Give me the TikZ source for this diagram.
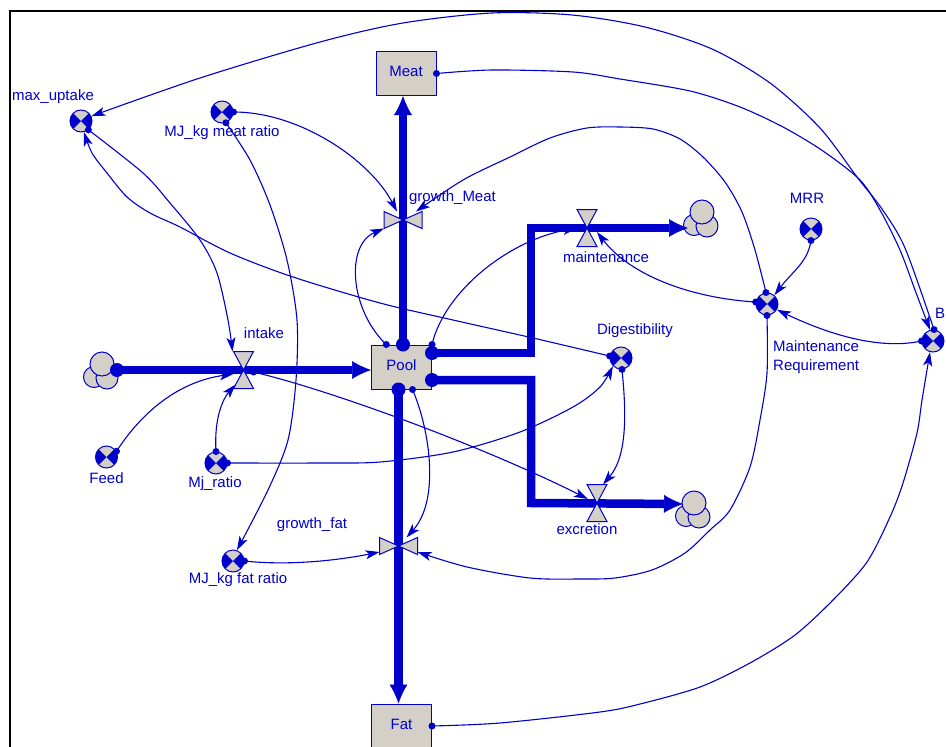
\documentclass[tikz,border=0pt]{standalone}
\usepackage{fontspec}
\setmainfont{Liberation Sans}
\usetikzlibrary{arrows.meta,calc}
\definecolor{vblue}{RGB}{0,0,204}
\definecolor{vgray}{RGB}{212,208,200}
\newcommand\condot[1]{\fill[vblue] (#1) circle (3.5pt);}
\newcommand\flowdot[1]{\fill[vblue] (#1) circle (7pt);}
\pgfdeclarelayer{conns}
\pgfdeclarelayer{pipes}
\pgfsetlayers{conns,pipes,main}
\begin{document}
\begin{tikzpicture}[x=1pt,y=-1pt,
 lbl/.style={text=vblue,font=\fontsize{15}{19}\selectfont,inner sep=0pt},
 stock/.style={rectangle,draw=vblue,fill=vgray,line width=1pt,minimum width=60pt,minimum height=44pt,inner sep=0pt,text=vblue,font=\fontsize{15}{19}\selectfont,text height=11pt,text depth=5pt},
 aux/.style={circle,draw=vblue,fill=vgray,line width=1pt,minimum size=22pt,inner sep=0pt,
   path picture={\fill[vblue] (path picture bounding box.center) -- ++(45:14pt) arc[start angle=45,end angle=-45,radius=14pt] -- cycle;
                 \fill[vblue] (path picture bounding box.center) -- ++(135:14pt) arc[start angle=135,end angle=225,radius=14pt] -- cycle;}},
 valveV/.style={rectangle,minimum width=20pt,minimum height=37pt,inner sep=0pt,outer sep=0pt},
 valveH/.style={rectangle,minimum width=38pt,minimum height=17pt,inner sep=0pt,outer sep=0pt},
 vshape/.style={draw=vblue,fill=vgray,line width=1pt,line join=miter},
 cloudc/.style={draw=vblue,fill=vgray,line width=1pt},
 cloud/.pic={\path[cloudc] (-6,6) circle (10.5pt); \path[cloudc] (7,7) circle (11pt); \path[cloudc] (2,-7) circle (12pt);},
 flow/.style={draw=vblue,line width=8.5pt,-{Latex[length=19pt,width=18pt,line width=0.5pt]}},
 conn/.style={draw=vblue,line width=1.1pt,-{Stealth[length=14pt,width=9pt,inset=3.5pt]}}
]
\useasboundingbox (0,0) rectangle (946,747);
\clip (0,0) rectangle (946,747);
\begin{pgfonlayer}{conns}
\fill[white] (0,0) rectangle (946,747);
\end{pgfonlayer}
\draw[black,line width=2.2pt] (10,750) -- (10,11) -- (950,11);

% stocks
\node[stock] (meat) at (406,73.5) {Meat};
\node[stock] (pool) at (401.5,367) {Pool};
\node[stock] (fat) at (401.5,726) {Fat};
% valves
\node[valveV] (intake) at (243.5,370) {};
\node[valveH] (gmeat) at (403,220) {};
\node[valveH] (gfat) at (398.5,546) {};
\node[valveV] (maint) at (587,228) {};
\node[valveV] (excr) at (597,503) {};
\path[vshape] (intake.north west) -- (intake.north east) -- (intake.center) -- cycle (intake.south west) -- (intake.south east) -- (intake.center) -- cycle;
\path[vshape] (maint.north west) -- (maint.north east) -- (maint.center) -- cycle (maint.south west) -- (maint.south east) -- (maint.center) -- cycle;
\path[vshape] (excr.north west) -- (excr.north east) -- (excr.center) -- cycle (excr.south west) -- (excr.south east) -- (excr.center) -- cycle;
\path[vshape] (gmeat.north west) -- (gmeat.south west) -- (gmeat.center) -- cycle (gmeat.north east) -- (gmeat.south east) -- (gmeat.center) -- cycle;
\path[vshape] (gfat.north west) -- (gfat.south west) -- (gfat.center) -- cycle (gfat.north east) -- (gfat.south east) -- (gfat.center) -- cycle;
% auxiliaries
\node[aux] (maxup) at (81,121) {};
\node[aux] (mjm) at (222,112) {};
\node[aux] (feed) at (106.5,457) {};
\node[aux] (mjr) at (216,463) {};
\node[aux] (dig) at (621,358) {};
\node[aux] (mrr) at (811,229) {};
\node[aux] (mreq) at (767,304) {};
\node[aux] (B) at (933,341) {};
\node[aux] (mjf) at (233,561) {};
% clouds and pipe corners
\coordinate (srcI) at (100,371);
\coordinate (snkM) at (700,219);
\coordinate (snkE) at (692,510);
\coordinate (mc1) at (531,353);
\coordinate (mc2) at (531,228);
\coordinate (ec1) at (531,380);
\coordinate (ec2) at (531,503);

\begin{pgfonlayer}{pipes}
\pic at (srcI) {cloud};
\pic at (snkM) {cloud};
\pic at (snkE) {cloud};
\draw[flow] ($(srcI)+(17,-1)$) -- (pool.west |- intake);
\draw[flow] (pool.north -| gmeat) -- (meat.south -| gmeat);
\draw[flow] (pool.south -| gfat) -- (fat.north -| gfat);
\draw[flow] (pool.east |- mc1) -- (mc1) -- (mc2) -- ($(snkM)+(-12,9)$);
\draw[flow] (pool.east |- ec1) -- (ec1) -- (ec2) -- ($(snkE)+(-9,-6)$);
\end{pgfonlayer}
\flowdot{$(srcI)+(17,-1)$}
\flowdot{pool.north -| gmeat}
\flowdot{pool.south -| gfat}
\flowdot{pool.east |- mc1}
\flowdot{pool.east |- ec1}

% connectors
\begin{pgfonlayer}{conns}
\draw[conn] plot[smooth,tension=0.5] coordinates {(B.85) (905,248) (882,209) (857,177) (820,128) (770,83) (712,49) (645,27) (572,15) (492,13) (403,23) (320,42) (200,78) (maxup.25)};
\draw[conn] plot[smooth,tension=0.5] coordinates {(meat.east) (492,70) (573,72) (620,79) (690,91) (740,107) (783,127) (823,151) (860,180) (880,210) (900,250) (915,290) (B.105)};
\draw[conn] (pool.north east) .. controls (445,290) and (510,240) .. (maint.west);
\draw[conn] ($(pool.north west)!0.25!(pool.north east)$) .. controls (350,310) and (345,245) .. (gmeat.south west);
\draw[conn] (mjm.east) .. controls (300,112) and (370,160) .. ([xshift=-6pt]gmeat.north);
\draw[conn] plot[smooth,tension=0.5] coordinates {(mreq.95) (755,250) (742,212) (725,182) (703,157) (680,139) (653,129) (620,127) (587,128) (550,138) (510,157) (463,180) ([xshift=13pt]gmeat.north)};
\draw[conn] (mrr.south) .. controls (808,262) and (792,272) .. (mreq.50);
\draw[conn] (B.180) .. controls (880,350) and (830,335) .. (mreq.-30);
\draw[conn] (mreq.170) .. controls (690,298) and (630,275) .. ([yshift=-4pt]maint.east);
\draw[conn] plot[smooth,tension=0.5] coordinates {(mreq.south) (767,373) (760,420) (750,467) (730,510) (710,530) (685,553) (652,570) (615,578) (580,579) (530,578) (467,567) ([yshift=-6pt]gfat.east)};
\draw[conn] ($(pool.south west)!0.68!(pool.south east)$) .. controls (430,430) and (440,500) .. ([xshift=8pt]gfat.north);
\draw[conn] (mjf.east) .. controls (290,566) and (340,560) .. ([yshift=-6pt]gfat.west);
\draw[conn] plot[smooth,tension=0.5] coordinates {(mjm.-70) (250,160) (270,205) (287,260) (297,320) (296,380) (288,440) (268,490) (mjf.70)};
\draw[conn] plot[smooth,tension=0.5] coordinates {(dig.170) (533,338) (453,320) (380,303) (293,277) (230,253) (180,227) (150,213) (127,197) (107,173) (92,153) (maxup.-75)};
\draw[conn] plot[smooth,tension=0.5] coordinates {(maxup.-50) (143,173) (170,203) (200,240) (217,273) (228,320) ([xshift=-11pt]intake.north)};
\draw[conn] (feed.30) .. controls (150,400) and (190,380) .. ([yshift=-4pt]intake.west);
\draw[conn] (mjr.north) .. controls (214,420) and (222,400) .. ([xshift=-8pt,yshift=4pt]intake.south);
\draw[conn] plot[smooth,tension=0.5] coordinates {(mjr.east) (320,463) (380,462) (453,452) (520,432) (573,407) (600,387) (dig.-135)};
\draw[conn] (dig.-85) .. controls (626,410) and (628,455) .. ([xshift=6pt]excr.north);
\draw[conn] ([xshift=10pt,yshift=-2pt]intake.center) .. controls (330,390) and (480,445) .. ([xshift=-9pt,yshift=4pt]excr.center);
\draw[conn] plot[smooth,tension=0.5] coordinates {(fat.east) (500,723) (600,712) (640,704) (700,687) (750,663) (795,635) (833,600) (867,562) (890,517) (903,483) (917,433) (922,400) (B.-105)};
\end{pgfonlayer}
% connector source dots
\condot{B.85}
\condot{meat.east}
\condot{pool.north east}
\condot{$(pool.north west)!0.25!(pool.north east)$}
\condot{mjm.east}
\condot{mreq.95}
\condot{mrr.south}
\condot{B.180}
\condot{mreq.170}
\condot{mreq.south}
\condot{$(pool.south west)!0.68!(pool.south east)$}
\condot{mjf.east}
\condot{mjm.-70}
\condot{dig.170}
\condot{maxup.-50}
\condot{feed.30}
\condot{mjr.north}
\condot{mjr.east}
\condot{dig.-85}
\condot{$(intake.center)+(10,2)$}
\condot{fat.east}

% labels
\node[lbl] (lmaxup) at (53,97) {max\_uptake};
\node[lbl] (lmjm) at (222,133) {MJ\_kg meat ratio};
\node[lbl] (lgmeat) at (452.5,198) {growth\_Meat};
\node[lbl] (lintake) at (264,333) {intake};
\node[lbl] (lmaint) at (606,257) {maintenance};
\node[lbl] (ldig) at (635,331) {Digestibility};
\node[lbl] (lmrr) at (807,198) {MRR};
\node[lbl,align=left,anchor=west] (lmreq) at (773,357.5) {Maintenance\\Requirement};
\node[lbl] (lB) at (940,313) {B};
\node[lbl] (lfeed) at (106.5,478) {Feed};
\node[lbl] (lmjr) at (215,484) {Mj\_ratio};
\node[lbl] (lexcr) at (587,529) {excretion};
\node[lbl] (lgfat) at (312,525) {growth\_fat};
\node[lbl] (lmjf) at (238,580) {MJ\_kg fat ratio};
\end{tikzpicture}
\end{document}
